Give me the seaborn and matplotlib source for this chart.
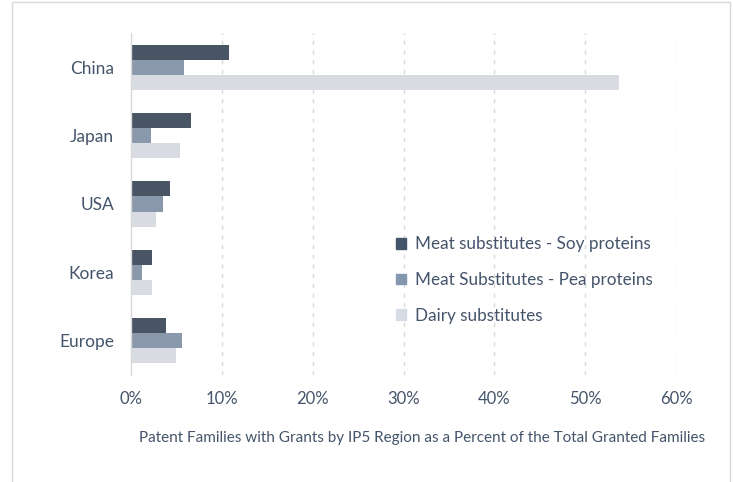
import matplotlib
matplotlib.use("Agg")
import matplotlib.pyplot as plt
import matplotlib.patches as mpatches
from matplotlib.ticker import PercentFormatter
import seaborn as sns
import pandas as pd

regions = ["China", "Japan", "USA", "Korea", "Europe"]
series_names = ["Meat substitutes - Soy proteins",
                "Meat Substitutes - Pea proteins",
                "Dairy substitutes"]
soy = [10.8, 6.6, 4.3, 2.3, 3.9]
pea = [5.8, 2.2, 3.5, 1.2, 5.6]
dairy = [53.7, 5.4, 2.8, 2.3, 4.9]
colors = ["#44546A", "#8497B0", "#D6DCE4"]
xticks = [0, 10, 20, 30, 40, 50, 60]

rows = []
for name, vals in zip(series_names, [soy, pea, dairy]):
    for r, v in zip(regions, vals):
        rows.append({"Region": r, "Series": name, "Value": v})
df = pd.DataFrame(rows)

sns.set_theme(style="white")
plt.rcParams["font.family"] = ["Lato", "DejaVu Sans"]
txt = "#44546A"

fig = plt.figure(figsize=(7.33, 4.82), dpi=100)
ax = fig.add_axes([131/733, 1-374.6/482, (676-131)/733, (374.6-33.4)/482])

sns.barplot(data=df, y="Region", x="Value", hue="Series", order=regions,
            hue_order=series_names, palette=colors, orient="h",
            width=0.66, linewidth=0, errorbar=None, ax=ax)

ax.set_xlim(0, 60)
ax.set_ylim(4.5, -0.5)
ax.set_xticks(xticks)
ax.xaxis.set_major_formatter(PercentFormatter(decimals=0))
for x in xticks[1:]:
    ax.axvline(x, color="#D9D9D9", lw=1, ls=(0, (3, 4)), zorder=0)
for s in ["top", "right", "bottom"]:
    ax.spines[s].set_visible(False)
ax.spines["left"].set_color("#D9D9D9")
ax.spines["left"].set_linewidth(1)
ax.tick_params(axis="both", length=0, colors=txt)
ax.tick_params(axis="y", pad=12, labelsize=12.5)
ax.tick_params(axis="x", pad=12, labelsize=12)
ax.set_ylabel("")
ax.set_xlabel("Patent Families with Grants by IP5 Region as a Percent of the Total Granted Families",
              color=txt, fontsize=11)
ax.xaxis.set_label_coords((422-131)/(676-131), -(438-374.6)/(374.6-33.4))
ax.xaxis.label.set_va("center")

handles = [mpatches.Patch(color=c) for c in colors]
ax.legend(handles, series_names, loc="upper left",
          bbox_to_anchor=((389-131)/(676-131), 1-(229.5-33.4)/(374.6-33.4)),
          frameon=False, fontsize=12.3, labelcolor=txt,
          handlelength=0.6, handleheight=0.6, handletextpad=0.55,
          labelspacing=1.15, borderaxespad=0)

fig.patches.append(mpatches.Rectangle((12/733, -0.1), 718/733, 1.1 - 1.5/482,
                                      transform=fig.transFigure, fill=False,
                                      edgecolor="#D9D9D9", lw=1))

fig.savefig("out.png", dpi=100)
